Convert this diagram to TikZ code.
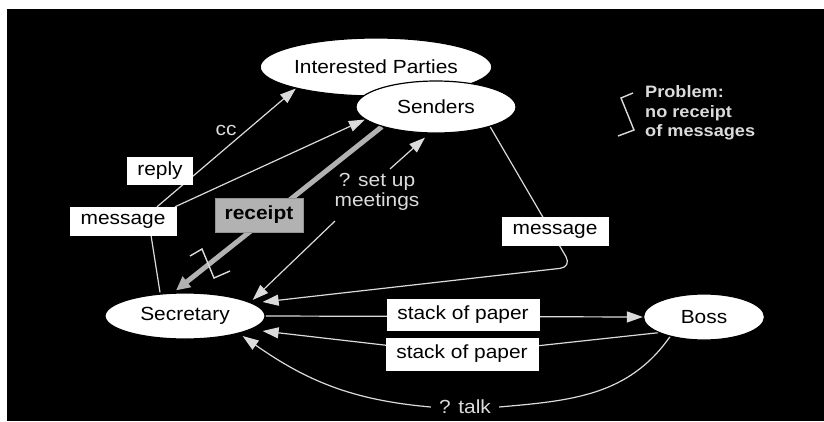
\documentclass[tikz,border=0pt]{standalone}
\usepackage{fontspec}
\setmainfont{Liberation Sans}[FakeStretch=1.1]
\usetikzlibrary{arrows.meta,shapes.geometric}
\pgfdeclarelayer{back}
\pgfdeclarelayer{wires}
\pgfsetlayers{back,wires,main}
\definecolor{ink}{gray}{0.86}
\definecolor{rcpt}{gray}{0.7}
\begin{document}
\begin{tikzpicture}[x=1pt,y=-1pt,
  every node/.style={font=\fontsize{19}{22}\selectfont},
  actor/.style={ellipse, fill=white, draw=black, line width=1.2pt, inner sep=0pt, text=black},
  tag/.style={rectangle, fill=white, draw=white, inner sep=0pt, text=black, minimum height=28pt},
  note/.style={text=ink, inner sep=0pt},
  wire/.style={draw=ink, line width=1.2pt},
  arr/.style={wire, -{Triangle[length=16pt,width=11pt]}},
  zig/.style={draw=ink, line width=1.4pt},
]
\useasboundingbox (0,0) rectangle (824,421);
\begin{pgfonlayer}{back}
  \fill[white] (0,0) rectangle (824,421);
  \fill[black] (7,9) rectangle (824,421);
\end{pgfonlayer}

% actors
\node[actor, minimum width=210pt, minimum height=58pt] (ip) at (376,67) {Interested Parties};
\node[actor, minimum width=160pt, minimum height=52pt] (sen) at (436,107) {Senders};
\node[actor, minimum width=160pt, minimum height=46pt] (sec) at (185,316) {Secretary};
\node[actor, minimum width=121pt, minimum height=46pt] (boss) at (704,317) {Boss};

% labelled boxes on the flows
\node[tag, minimum width=65pt, minimum height=27pt] (reply) at (160,171) {reply};
\node[tag, minimum width=106pt] (msgL) at (123,221) {message};
\node[tag, minimum width=88pt, minimum height=34pt, fill=rcpt, draw=gray!85!white,
      font=\fontsize{19}{22}\selectfont\bfseries] (rcp) at (259,215) {receipt};
\node[tag, minimum width=106pt] (msgR) at (555,231) {message};
\node[tag, minimum width=152pt, minimum height=31pt] (stk1) at (463,315) {stack of paper};
\node[tag, minimum width=152pt, minimum height=32pt] (stk2) at (462,354) {stack of paper};

% free labels
\node[note] (cc) at (226,130) {cc};
\node[note, align=center, font=\fontsize{19}{20.5}\selectfont] (setup) at (377,192) {? set up\\meetings};
\node[note, inner xsep=8pt] (talk) at (465,407) {? talk};
\node[note, align=left, anchor=west, font=\fontsize{16.5}{19.5}\selectfont\bfseries] (prob) at (645,113)
  {Problem:\\no receipt\\of messages};

\coordinate (bend) at (572,267);

\begin{pgfonlayer}{wires}
  % secretary sends messages out
  \draw[arr] ([xshift=34pt]msgL.north) -- (ip.195);
  \draw[arr] ([xshift=52pt]msgL.north) -- (sen.190);
  \draw[wire] ([xshift=28pt]msgL.south) -- ([xshift=-25pt]sec.north);
  % missing receipt
  \draw[draw=rcpt, line width=5pt, -{Triangle[length=14pt,width=13pt,fill=rcpt]}]
    (sen.200) -- ([xshift=-9pt,yshift=2pt]sec.north);
  % meetings, both ways
  \draw[arr] ([xshift=13pt,yshift=4pt]setup.north) -- ([xshift=-11pt,yshift=-4pt]sen.south);
  \draw[arr] ([xshift=-42pt,yshift=-10pt]setup.south) -- ([xshift=-13pt,yshift=16pt]sec.east);
  % incoming message
  \draw[arr, rounded corners=12pt] (sen.-20) -- (bend) -- ([xshift=-3pt,yshift=14pt]sec.east);
  % paper to and from the boss
  \draw[arr] (sec.east) -- (boss.west);
  \draw[arr] (boss.199) -- (stk2.center) -- ([xshift=-3pt,yshift=-15pt]sec.east);
  % talk
  \draw[wire] (boss.210) to[out=235,in=5] (talk.east);
  \draw[arr] (talk.west) to[out=175,in=-35] ([xshift=-23pt,yshift=-20pt]sec.east);
  % break marks
  \draw[zig] (190,256) -- (202,249) -- (214,278) -- (230,271);
  \draw[zig] (633,93) -- (621,98) -- (634,130) -- (618,136);
\end{pgfonlayer}
\end{tikzpicture}
\end{document}
